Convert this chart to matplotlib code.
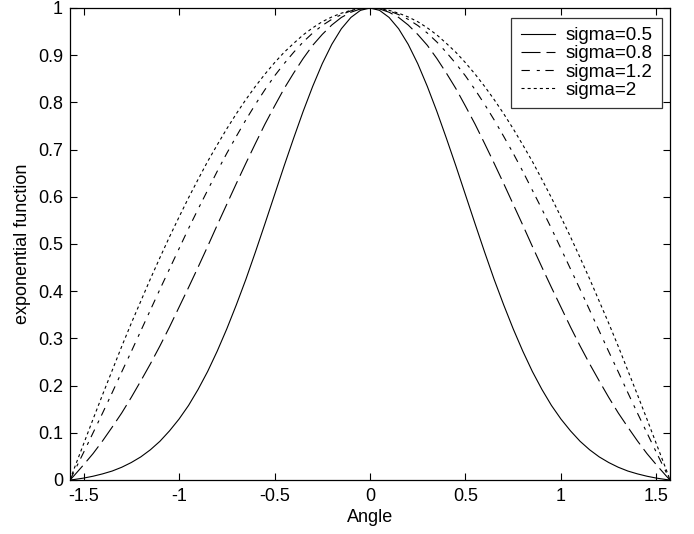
import matplotlib
matplotlib.use("Agg")
import matplotlib.pyplot as plt

# Angle sample positions (radians)
angle = [-1.5708, -1.55, -1.5, -1.45, -1.4, -1.35, -1.3, -1.25, -1.2, -1.15, -1.1,
         -1.05, -1.0, -0.95, -0.9, -0.85, -0.8, -0.75, -0.7, -0.65, -0.6, -0.55,
         -0.5, -0.45, -0.4, -0.35, -0.3, -0.25, -0.2, -0.15, -0.1, -0.05,
         0.0,
         0.05, 0.1, 0.15, 0.2, 0.25, 0.3, 0.35, 0.4, 0.45, 0.5, 0.55,
         0.6, 0.65, 0.7, 0.75, 0.8, 0.85, 0.9, 0.95, 1.0, 1.05,
         1.1, 1.15, 1.2, 1.25, 1.3, 1.35, 1.4, 1.45, 1.5, 1.55, 1.5708]

sigma_05 = [0.0, 0.001, 0.004, 0.008, 0.013, 0.019, 0.027, 0.037, 0.049, 0.064, 0.082,
            0.104, 0.129, 0.158, 0.192, 0.230, 0.273, 0.320, 0.371, 0.425, 0.483, 0.543,
            0.604, 0.665, 0.724, 0.781, 0.834, 0.882, 0.923, 0.956, 0.980, 0.995,
            1.0,
            0.995, 0.980, 0.956, 0.923, 0.882, 0.834, 0.781, 0.724, 0.665, 0.604, 0.543,
            0.483, 0.425, 0.371, 0.320, 0.273, 0.230, 0.192, 0.158, 0.129, 0.104,
            0.082, 0.064, 0.049, 0.037, 0.027, 0.019, 0.013, 0.008, 0.004, 0.001, 0.0]
sigma_08 = [0.0, 0.009, 0.032, 0.056, 0.083, 0.112, 0.142, 0.175, 0.210, 0.246, 0.284,
            0.324, 0.366, 0.408, 0.451, 0.495, 0.540, 0.584, 0.628, 0.671, 0.713, 0.754,
            0.792, 0.829, 0.862, 0.893, 0.921, 0.944, 0.964, 0.980, 0.991, 0.998,
            1.0,
            0.998, 0.991, 0.980, 0.964, 0.944, 0.921, 0.893, 0.862, 0.829, 0.792, 0.754,
            0.713, 0.671, 0.628, 0.584, 0.540, 0.495, 0.451, 0.408, 0.366, 0.324,
            0.284, 0.246, 0.210, 0.175, 0.142, 0.112, 0.083, 0.056, 0.032, 0.009, 0.0]
sigma_12 = [0.0, 0.017, 0.058, 0.100, 0.142, 0.185, 0.229, 0.272, 0.316, 0.360, 0.404,
            0.447, 0.490, 0.533, 0.574, 0.614, 0.654, 0.692, 0.728, 0.763, 0.796, 0.827,
            0.856, 0.882, 0.906, 0.928, 0.947, 0.963, 0.976, 0.986, 0.994, 0.998,
            1.0,
            0.998, 0.994, 0.986, 0.976, 0.963, 0.947, 0.928, 0.906, 0.882, 0.856, 0.827,
            0.796, 0.763, 0.728, 0.692, 0.654, 0.614, 0.574, 0.533, 0.490, 0.447,
            0.404, 0.360, 0.316, 0.272, 0.229, 0.185, 0.142, 0.100, 0.058, 0.017, 0.0]
sigma_20 = [0.0, 0.023, 0.076, 0.129, 0.181, 0.232, 0.283, 0.332, 0.379, 0.426, 0.471,
            0.515, 0.557, 0.598, 0.637, 0.675, 0.710, 0.744, 0.776, 0.806, 0.834, 0.860,
            0.884, 0.906, 0.925, 0.943, 0.958, 0.971, 0.981, 0.989, 0.995, 0.999,
            1.0,
            0.999, 0.995, 0.989, 0.981, 0.971, 0.958, 0.943, 0.925, 0.906, 0.884, 0.860,
            0.834, 0.806, 0.776, 0.744, 0.710, 0.675, 0.637, 0.598, 0.557, 0.515,
            0.471, 0.426, 0.379, 0.332, 0.283, 0.232, 0.181, 0.129, 0.076, 0.023, 0.0]

labels = ["sigma=0.5", "sigma=0.8", "sigma=1.2", "sigma=2"]

xticks = [-1.5, -1, -0.5, 0, 0.5, 1, 1.5]
xticklabels = ["-1.5", "-1", "-0.5", "0", "0.5", "1", "1.5"]
yticks = [0, 0.1, 0.2, 0.3, 0.4, 0.5, 0.6, 0.7, 0.8, 0.9, 1.0]
yticklabels = ["0", "0.1", "0.2", "0.3", "0.4", "0.5", "0.6", "0.7", "0.8", "0.9", "1"]

plt.rcParams['font.family'] = ['Liberation Sans', 'DejaVu Sans']
plt.rcParams['lines.scale_dashes'] = False

fig = plt.figure(figsize=(6.94, 5.34), dpi=100)
ax = fig.add_axes([70/694, 54/534, 600/694, 472/534])

lw = 0.8
ax.plot(angle, sigma_05, color='black', lw=lw, linestyle='-', label=labels[0])
ax.plot(angle, sigma_08, color='black', lw=lw, linestyle=(0, (13.7, 4.3)), label=labels[1])
ax.plot(angle, sigma_12, color='black', lw=lw, linestyle=(0, (6, 5, 2.2, 4)), label=labels[2])
ax.plot(angle, sigma_20, color='black', lw=lw, linestyle=(0, (2.2, 2.2)), label=labels[3])

ax.set_xlim(-1.5708, 1.5708)
ax.set_ylim(0, 1)
ax.set_xticks(xticks)
ax.set_xticklabels(xticklabels)
ax.set_yticks(yticks)
ax.set_yticklabels(yticklabels)
ax.tick_params(direction='in', length=5, width=0.8, top=True, right=True,
               labelsize=13, colors='black')
ax.tick_params(axis='x', pad=6)
ax.tick_params(axis='y', pad=5)
for sp in ax.spines.values():
    sp.set_linewidth(0.9)

ax.set_xlabel("Angle", fontsize=13, labelpad=3)
ax.set_ylabel("exponential function", fontsize=13, labelpad=5)

leg = ax.legend(loc='upper right', bbox_to_anchor=(0.987, 0.979), borderaxespad=0,
                fontsize=13.5, frameon=True, fancybox=False, handlelength=1.8,
                handletextpad=0.6, labelspacing=0.05, borderpad=0.5)
leg.get_frame().set_edgecolor('black')
leg.get_frame().set_linewidth(0.9)

fig.savefig("out.png", dpi=100)
